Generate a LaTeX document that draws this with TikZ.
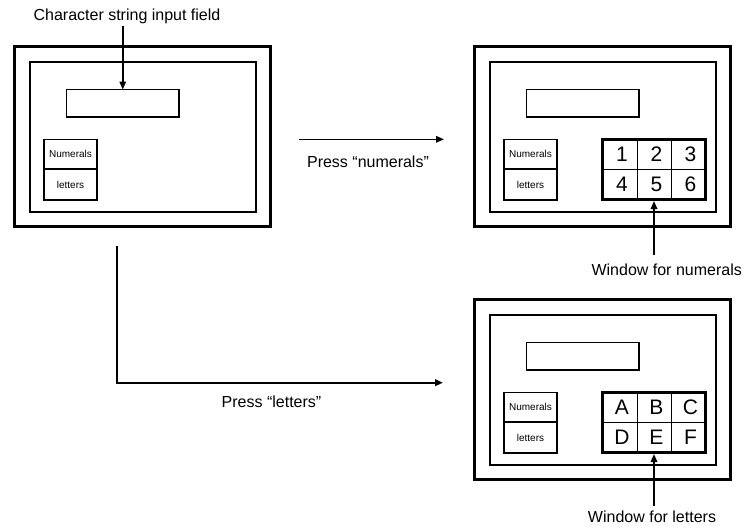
\documentclass[tikz,border=0pt]{standalone}
\usepackage{fontspec}
\setmainfont{Liberation Sans}
\usetikzlibrary{arrows.meta}
% style, name, x1, y1, x2, y2, text
\newcommand\boxnode[7]{%
  \node[#1,anchor=north west,inner sep=0pt,outer sep=0pt,
        minimum width={(#5-#3)*1pt},minimum height={(#6-#4)*1pt}] (#2) at (#3,#4) {#7};}
\newcommand\drawpanel[1]{%
  \boxnode{outerbox}{#1o}{14.5}{46.5}{270.5}{226.5}{}
  \boxnode{thinbox}{#1i}{30}{62}{256}{212}{}
  \boxnode{thinbox}{#1f}{66.5}{89.5}{179}{117}{}
  \boxnode{thinbox,small}{#1n}{44}{139.5}{97}{169}{Numerals}
  \boxnode{thinbox,small}{#1l}{44}{169}{97}{200}{letters}}
\newcommand\drawkeypad[7]{%
  \boxnode{thinbox,key}{#1k1}{142.5}{139}{177.3}{169.3}{\hspace*{4pt}#2}
  \boxnode{thinbox,key}{#1k2}{177.3}{139}{211.5}{169.3}{\hspace*{4pt}#3}
  \boxnode{thinbox,key}{#1k3}{211.5}{139}{245.5}{169.3}{\hspace*{4pt}#4}
  \boxnode{thinbox,key}{#1k4}{142.5}{169.3}{177.3}{199.5}{\hspace*{4pt}#5}
  \boxnode{thinbox,key}{#1k5}{177.3}{169.3}{211.5}{199.5}{\hspace*{4pt}#6}
  \boxnode{thinbox,key}{#1k6}{211.5}{169.3}{245.5}{199.5}{\hspace*{4pt}#7}
  \boxnode{outerbox}{#1kp}{142.5}{139}{245.5}{199.5}{}}
\begin{document}
\begin{tikzpicture}[x=1pt,y=-1pt,
  outerbox/.style={draw,line width=3pt},
  thinbox/.style={draw,line width=1.3pt},
  small/.style={font=\fontsize{10}{12}\selectfont},
  key/.style={font=\fontsize{21}{24}\selectfont},
  lbl/.style={font=\fontsize{16}{19}\selectfont,inner sep=2pt},
  conn/.style={line width=1.6pt,-{Triangle[length=8pt,width=6.5pt]}},
]
\useasboundingbox (0,0) rectangle (745,528);

% panel 1
\drawpanel{a}
% panel 2
\begin{scope}[shift={(460,0)}]
  \drawpanel{b}
  \drawkeypad{b}{1}{2}{3}{4}{5}{6}
\end{scope}
% panel 3
\begin{scope}[shift={(460,253)}]
  \drawpanel{c}
  \drawkeypad{c}{A}{B}{C}{D}{E}{F}
\end{scope}

% labels
\node[lbl] (cs) at (127,16.7) {Character string input field};
\node[lbl] (pn) at (368,161.7) {Press “numerals”};
\node[lbl] (pl) at (271.5,401.7) {Press “letters”};
\node[lbl] (wn) at (666.7,270) {Window for numerals};
\node[lbl] (wl) at (652,517) {Window for letters};

% connectors
\draw[conn] (cs.south -| af.north) -- (af.north);
\coordinate (pn0) at (299,139.3);
\coordinate (pn1) at (444,139.3);
\draw[conn] (pn0) -- (pn1);
\coordinate (pl0) at (116.7,246);
\coordinate (pl1) at (443,382.7);
\draw[conn,line width=2pt] (pl0) |- (pl1);
\draw[conn,shorten >=1.5pt] ([yshift=7pt]wn.north -| bkp.south) -- (bkp.south);
\draw[conn,shorten >=1.5pt] ([yshift=3pt]wl.north -| ckp.south) -- (ckp.south);
\end{tikzpicture}
\end{document}
